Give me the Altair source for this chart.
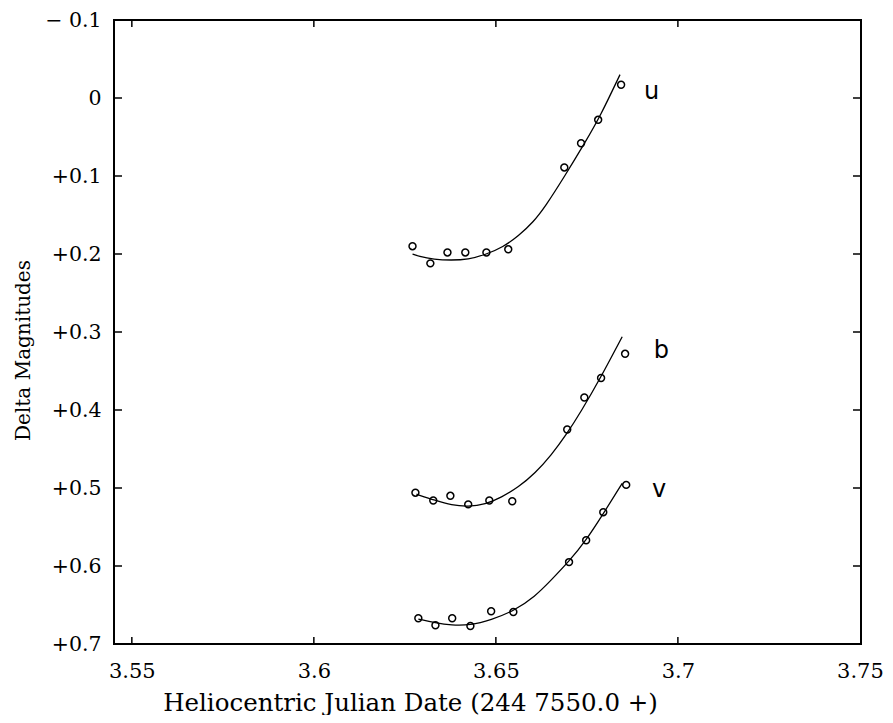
import altair as alt
import pandas as pd

# ---- data ----
u_x = [3.6271, 3.6320, 3.6367, 3.6416, 3.6474, 3.6534, 3.6688, 3.6734, 3.6781, 3.6844]
u_y = [0.190, 0.212, 0.198, 0.198, 0.198, 0.194, 0.089, 0.058, 0.028, -0.017]
b_x = [3.6279, 3.6328, 3.6375, 3.6424, 3.6482, 3.6545, 3.6696, 3.6743, 3.6789, 3.6855]
b_y = [0.506, 0.516, 0.510, 0.521, 0.516, 0.517, 0.425, 0.384, 0.359, 0.328]
v_x = [3.6287, 3.6334, 3.6380, 3.6430, 3.6487, 3.6548, 3.6701, 3.6748, 3.6795, 3.6858]
v_y = [0.667, 0.676, 0.667, 0.677, 0.658, 0.659, 0.595, 0.567, 0.531, 0.496]

u_curve_x = [3.6271, 3.6287, 3.6330, 3.6377, 3.6424, 3.6471, 3.6520, 3.6562, 3.6603, 3.6636, 3.6688, 3.6745, 3.6786, 3.6841]
u_curve_y = [0.200, 0.203, 0.207, 0.208, 0.207, 0.201, 0.191, 0.177, 0.159, 0.139, 0.101, 0.057, 0.024, -0.030]
b_curve_x = [3.6282, 3.6334, 3.6378, 3.6424, 3.6471, 3.6515, 3.6562, 3.6608, 3.6652, 3.6693, 3.6734, 3.6786, 3.6847]
b_curve_y = [0.508, 0.516, 0.522, 0.524, 0.521, 0.512, 0.499, 0.481, 0.458, 0.432, 0.402, 0.360, 0.306]
v_curve_x = [3.6287, 3.6334, 3.6378, 3.6430, 3.6487, 3.6548, 3.6608, 3.6652, 3.6701, 3.6748, 3.6795, 3.6847]
v_curve_y = [0.668, 0.673, 0.676, 0.676, 0.669, 0.658, 0.639, 0.618, 0.594, 0.567, 0.533, 0.494]

band_names = ["u", "b", "v"]
band_label_x = [3.6907, 3.6934, 3.6929]
band_label_y = [-0.008, 0.324, 0.503]

x_ticks = [3.55, 3.6, 3.65, 3.7, 3.75]
y_ticks = [-0.1, 0.0, 0.1, 0.2, 0.3, 0.4, 0.5, 0.6, 0.7]

x_title = "Heliocentric Julian Date (244 7550.0 +)"
y_title = "Delta Magnitudes"

# ---- tables ----
pts = pd.concat([
    pd.DataFrame({"series": "u", "x": u_x, "y": u_y}),
    pd.DataFrame({"series": "b", "x": b_x, "y": b_y}),
    pd.DataFrame({"series": "v", "x": v_x, "y": v_y}),
])
curves = pd.concat([
    pd.DataFrame({"series": "u", "x": u_curve_x, "y": u_curve_y}),
    pd.DataFrame({"series": "b", "x": b_curve_x, "y": b_curve_y}),
    pd.DataFrame({"series": "v", "x": v_curve_x, "y": v_curve_y}),
])
labels = pd.DataFrame({"name": band_names, "x": band_label_x, "y": band_label_y})
xt = pd.DataFrame({"x": x_ticks[:-1]})
yt = pd.DataFrame({"y": y_ticks[1:-1]})

W, H = 747, 624
FONT = "DejaVu Serif"

xs = alt.Scale(domain=[3.5451, 3.7503], nice=False, zero=False)
ys = alt.Scale(domain=[-0.1, 0.7], reverse=True, nice=False, zero=False)

y_label_expr = ("datum.value < 0 ? '\u2212 ' + format(-datum.value, '.1f') : "
                "(datum.value == 0 ? '0' : '+' + format(datum.value, '.1f'))")

x_axis = alt.Axis(values=x_ticks, format=".2~f", title=x_title, ticks=False, domain=False, grid=False,
                  labelFont=FONT, labelFontSize=21, labelColor="black", labelPadding=16,
                  labelFlush=False,
                  titleFont=FONT, titleFontSize=24.5, titleFontWeight="normal", titleColor="black",
                  titleX=296, titleY=66, titleAlign="center",
                  titleBaseline="alphabetic")
y_axis = alt.Axis(values=y_ticks, labelExpr=y_label_expr, title=y_title, ticks=False, domain=False,
                  grid=False, labelFont=FONT, labelFontSize=20.5, labelColor="black", labelPadding=13,
                  labelFlush=False,
                  titleFont=FONT, titleFontSize=20, titleFontWeight="normal", titleColor="black",
                  titleAngle=270, titleX=-91, titleY=330, titleAlign="center", titleBaseline="middle")

X = alt.X("x:Q", scale=xs, axis=x_axis)
Y = alt.Y("y:Q", scale=ys, axis=y_axis)

lines = alt.Chart(curves).mark_line(color="black", strokeWidth=1.3, interpolate="basis").encode(
    x=X, y=Y, detail="series:N",
)

points = alt.Chart(pts).mark_point(shape="circle", filled=False, size=48, strokeWidth=1.5,
                                   color="black", opacity=1).encode(x=X, y=Y)

texts = alt.Chart(labels).mark_text(font="DejaVu Sans", fontSize=24, align="left", baseline="middle",
                                    color="black").encode(x=X, y=Y, text="name:N")

bottom_ticks = alt.Chart(xt).mark_rule(color="black", strokeWidth=1.5).encode(
    x=X, y=alt.value(H), y2=alt.value(H - 7))
top_ticks = alt.Chart(xt).mark_rule(color="black", strokeWidth=1.5).encode(
    x=X, y=alt.value(0), y2=alt.value(7))
left_ticks = alt.Chart(yt).mark_rule(color="black", strokeWidth=1.5).encode(
    y=Y, x=alt.value(0), x2=alt.value(8))
right_ticks = alt.Chart(yt).mark_rule(color="black", strokeWidth=1.5).encode(
    y=Y, x=alt.value(W), x2=alt.value(W - 8))

chart = alt.layer(lines, points, texts, bottom_ticks, top_ticks, left_ticks, right_ticks).properties(
    width=W, height=H,
    autosize=alt.AutoSizeParams(type="none"),
    padding={"left": 106, "top": 12, "right": 22, "bottom": 71},
    background="white",
).configure_view(stroke="black", strokeWidth=2)

chart.save("out.html", embed_options={"renderer": "svg", "actions": False})
